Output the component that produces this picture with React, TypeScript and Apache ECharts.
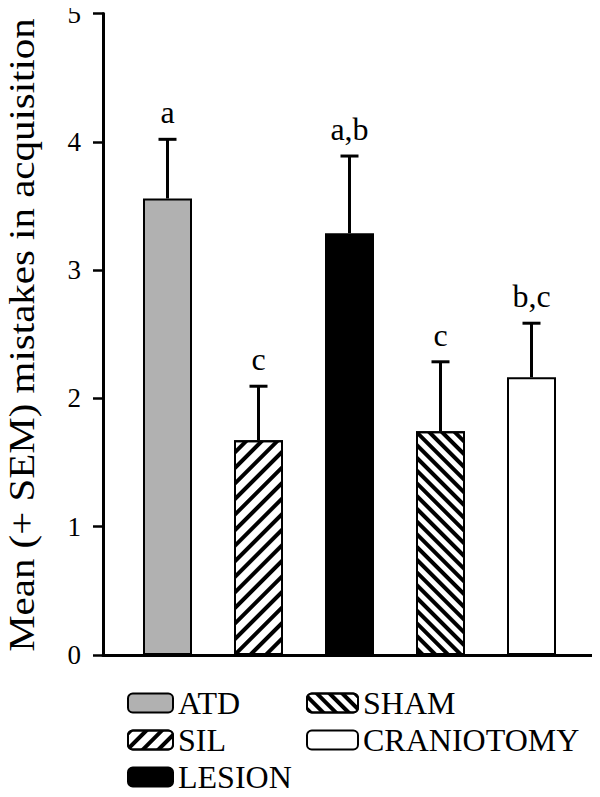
import React, { useEffect, useRef } from "react";
import * as echarts from "echarts";

const categories = ["ATD", "SIL", "LESION", "SHAM", "CRANIOTOMY"];
const means = [3.55, 1.67, 3.28, 1.74, 2.16];
const sems = [0.46, 0.42, 0.6, 0.54, 0.42];
const letters = ["a", "c", "a,b", "c", "b,c"];
const yTitle = "Mean (+ SEM) mistakes in acquisition";
const legendCol1 = ["ATD", "SIL", "LESION"];
const legendCol2 = ["SHAM", "CRANIOTOMY"];

const FONT = "'Liberation Serif', 'Times New Roman', serif";

const fills: any[] = [
  { color: "#b1b1b1" },
  {
    color: "#ffffff",
    decal: {
      symbol: "rect",
      symbolSize: 1,
      dashArrayX: [1, 0],
      dashArrayY: [3.2, 6.2],
      rotation: -Math.PI / 4,
      color: "#000000",
      backgroundColor: "#ffffff",
    },
  },
  { color: "#000000" },
  {
    color: "#ffffff",
    decal: {
      symbol: "rect",
      symbolSize: 1,
      dashArrayX: [1, 0],
      dashArrayY: [3.8, 5],
      rotation: Math.PI / 4,
      color: "#000000",
      backgroundColor: "#ffffff",
    },
  },
  { color: "#ffffff" },
];

export default function App() {
  const ref = useRef<HTMLDivElement>(null);
  useEffect(() => {
    if (!ref.current) return;
    const chart = echarts.init(ref.current, null, { renderer: "svg" });
    const barSeries = categories.map((name, i) => ({
      name,
      type: "bar",
      xAxisIndex: 0,
      yAxisIndex: 0,
      barWidth: 49,
      barGap: "-100%",
      data: categories.map((_, j) => (j === i ? means[i] : "-")),
      itemStyle: {
        ...fills[i],
        borderColor: "#000",
        borderWidth: 2,
      },
      z: 2,
    }));
    const option: any = {
      animation: false,
      backgroundColor: "#fff",
      textStyle: { fontFamily: FONT },
      grid: [
        { left: 122, right: 23, top: 12, bottom: 142 },
        { left: 103, right: 4, top: 12, bottom: 142 },
      ],
      xAxis: [
        {
          gridIndex: 0,
          type: "category",
          data: categories,
          show: false,
        },
        {
          gridIndex: 1,
          type: "value",
          min: 0,
          max: 1,
          axisLine: { show: true, lineStyle: { color: "#000", width: 3 } },
          axisTick: { show: false },
          axisLabel: { show: false },
          splitLine: { show: false },
        },
      ],
      yAxis: [
        { gridIndex: 0, type: "value", min: 0, max: 5, interval: 1, show: false },
        {
          gridIndex: 1,
          type: "value",
          min: 0,
          max: 5,
          interval: 1,
          axisLine: { show: true, lineStyle: { color: "#000", width: 3 } },
          axisTick: { show: true, length: 10, lineStyle: { color: "#000", width: 2.5 } },
          axisLabel: { color: "#000", fontFamily: FONT, fontSize: 27, margin: 22 },
          splitLine: { show: false },
        },
      ],
      legend: [
        {
          data: legendCol1,
          orient: "vertical",
          left: 127,
          top: 687,
          padding: 0,
          itemWidth: 45,
          itemHeight: 19,
          itemGap: 5,
          textStyle: { color: "#000", fontFamily: FONT, fontSize: 32, lineHeight: 32 },
        },
        {
          data: legendCol2,
          orient: "vertical",
          left: 306,
          top: 687,
          padding: 0,
          itemWidth: 51,
          itemHeight: 19,
          itemGap: 5,
          textStyle: { color: "#000", fontFamily: FONT, fontSize: 32, lineHeight: 32 },
        },
      ],
      graphic: [
        {
          type: "text",
          x: 22,
          y: 335,
          rotation: Math.PI / 2,
          scaleX: 1.17,
          style: {
            text: yTitle,
            fontFamily: FONT,
            fontSize: 35,
            fill: "#000",
            align: "center",
            verticalAlign: "middle",
          },
        },
      ],
      series: [
        ...barSeries,
        {
          type: "custom",
          xAxisIndex: 0,
          yAxisIndex: 0,
          z: 3,
          data: categories.map((_, i) => [i, means[i], sems[i]]),
          encode: { x: 0, y: 1 },
          renderItem: (params: any, api: any) => {
            const i = api.value(0);
            const m = api.value(1);
            const s = api.value(2);
            const base = api.coord([i, m]);
            const top = api.coord([i, m + s]);
            return {
              type: "group",
              children: [
                {
                  type: "line",
                  shape: { x1: base[0], y1: base[1], x2: top[0], y2: top[1] },
                  style: { stroke: "#000", lineWidth: 3 },
                },
                {
                  type: "line",
                  shape: { x1: top[0] - 9, y1: top[1], x2: top[0] + 9, y2: top[1] },
                  style: { stroke: "#000", lineWidth: 3 },
                },
                {
                  type: "text",
                  x: top[0],
                  y: top[1] - 11,
                  style: {
                    text: letters[params.dataIndex],
                    fontFamily: FONT,
                    fontSize: 32,
                    fill: "#000",
                    align: "center",
                    verticalAlign: "bottom",
                  },
                },
              ],
            };
          },
        },
      ],
    };
    chart.setOption(option);
    return () => chart.dispose();
  }, []);
  return <div ref={ref} style={{ width: 600, height: 797, margin: -8 }} />;
}
